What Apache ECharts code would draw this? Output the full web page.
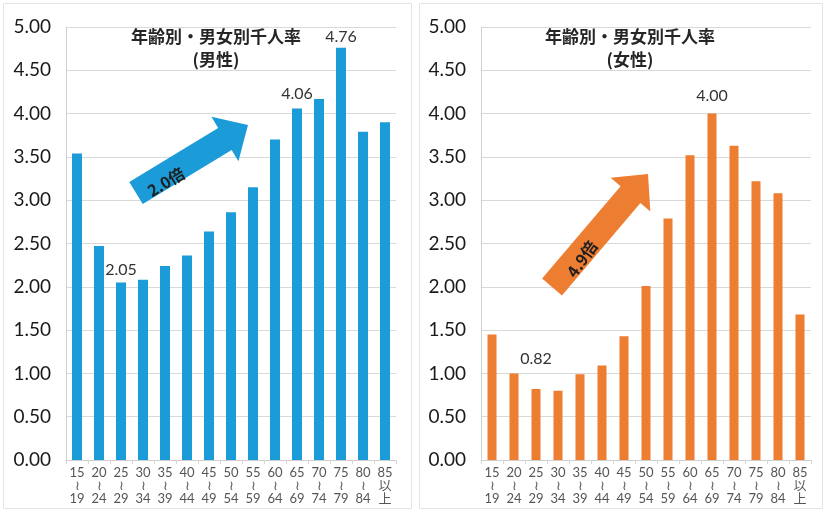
<!DOCTYPE html>
<html>
<head>
<meta charset="utf-8">
<script src="https://cdn.jsdelivr.net/npm/echarts@6/dist/echarts.min.js"></script>
<style>
  html, body { margin: 0; padding: 0; background: #ffffff; }
  #chart { width: 826px; height: 513px; }
</style>
</head>
<body>
<div id="chart"></div>
<script>
// Age bands (vertical labels: from / wave dash / to)
const ageBands = [
  '15\n≀\n19', '20\n≀\n24', '25\n≀\n29', '30\n≀\n34', '35\n≀\n39',
  '40\n≀\n44', '45\n≀\n49', '50\n≀\n54', '55\n≀\n59', '60\n≀\n64',
  '65\n≀\n69', '70\n≀\n74', '75\n≀\n79', '80\n≀\n84', '85\n以\n上'
];

// Rate per thousand, men
const maleRates = [3.54, 2.47, 2.05, 2.08, 2.24, 2.36, 2.64, 2.86, 3.15, 3.70, 4.06, 4.17, 4.76, 3.79, 3.90];
// Rate per thousand, women
const femaleRates = [1.45, 1.00, 0.82, 0.80, 0.99, 1.09, 1.43, 2.01, 2.79, 3.52, 4.00, 3.63, 3.22, 3.08, 1.68];

// Bars whose value is printed, with the gap between bar top and label
const maleLabelled = { 2: 5, 10: 7, 12: 3 };
const femaleLabelled = { 2: 22, 10: 10 };

const titleMain = '年齢別・男女別千人率';
const titleMale = '(男性)';
const titleFemale = '(女性)';
const ratioMale = '2.0倍';
const ratioFemale = '4.9倍';

const yTicks = { min: 0, max: 5, interval: 0.5 };

const BLUE = '#1b9bd8';
const ORANGE = '#ed7d31';
const GRID_LINE = '#d9d9d9';

function withLabels(values, labelled) {
  return values.map((v, i) => {
    if (labelled[i] === undefined) return v;
    return {
      value: v,
      label: {
        show: true, position: 'top', distance: labelled[i],
        formatter: p => p.value.toFixed(2),
        fontFamily: 'Lato', fontSize: 16, color: '#333333'
      }
    };
  });
}

// Thick block arrow from a tail centre to a tip
function arrowPoints(tail, tip, shaftW, headW, headL) {
  const dx = tip[0] - tail[0], dy = tip[1] - tail[1];
  const len = Math.hypot(dx, dy);
  const ux = dx / len, uy = dy / len;
  const nx = -uy, ny = ux;
  const bx = tip[0] - ux * headL, by = tip[1] - uy * headL;
  const s = shaftW / 2, h = headW / 2;
  return [
    [tail[0] + nx * s, tail[1] + ny * s],
    [bx + nx * s, by + ny * s],
    [bx + nx * h, by + ny * h],
    tip,
    [bx - nx * h, by - ny * h],
    [bx - nx * s, by - ny * s],
    [tail[0] - nx * s, tail[1] - ny * s]
  ];
}

function xAxisFor(gridIndex) {
  return {
    type: 'category', gridIndex, data: ageBands,
    axisLine: { lineStyle: { color: '#cfcfcf', width: 1 } },
    axisTick: { show: true, length: 4, lineStyle: { color: '#d6d6d6' } },
    axisLabel: {
      interval: 0, margin: 6, color: '#555555',
      fontFamily: 'Lato, "Noto Sans CJK JP"', fontSize: 13, lineHeight: 13
    }
  };
}

function yAxisFor(gridIndex) {
  return {
    type: 'value', gridIndex,
    min: yTicks.min, max: yTicks.max, interval: yTicks.interval,
    axisLine: { show: true, lineStyle: { color: '#cfcfcf' } },
    axisTick: { show: false },
    splitLine: { lineStyle: { color: GRID_LINE, width: 1 } },
    axisLabel: {
      margin: 15, color: '#1a1a1a', fontFamily: 'Lato', fontSize: 19,
      formatter: v => v.toFixed(2)
    }
  };
}

const titleStyle = {
  fontFamily: '"Noto Sans CJK JP"', fontSize: 17, fontWeight: 'bold',
  color: '#262626', lineHeight: 23, align: 'center'
};

const chart = echarts.init(document.getElementById('chart'), null, { renderer: 'canvas' });

chart.setOption({
  animation: false,
  backgroundColor: '#ffffff',
  title: [
    { text: titleMain + '\n' + titleMale, left: 216, top: 25, textAlign: 'center', padding: 0, textStyle: titleStyle },
    { text: titleMain + '\n' + titleFemale, left: 630, top: 25, textAlign: 'center', padding: 0, textStyle: titleStyle }
  ],
  grid: [
    { left: 66, top: 27, width: 330, height: 433 },
    { left: 481, top: 27, width: 330, height: 433 }
  ],
  xAxis: [xAxisFor(0), xAxisFor(1)],
  yAxis: [yAxisFor(0), yAxisFor(1)],
  series: [
    {
      type: 'bar', xAxisIndex: 0, yAxisIndex: 0, barWidth: 10,
      itemStyle: { color: BLUE },
      data: withLabels(maleRates, maleLabelled)
    },
    {
      type: 'bar', xAxisIndex: 1, yAxisIndex: 1, barWidth: 9,
      itemStyle: { color: ORANGE },
      data: withLabels(femaleRates, femaleLabelled)
    }
  ],
  graphic: [
    // panel frames
    { type: 'rect', silent: true, z: -1, shape: { x: 3.5, y: 3.5, width: 408, height: 505 },
      style: { fill: null, stroke: '#e4e4e4', lineWidth: 1 } },
    { type: 'rect', silent: true, z: -1, shape: { x: 419.5, y: 3.5, width: 403, height: 505 },
      style: { fill: null, stroke: '#e4e4e4', lineWidth: 1 } },
    // trend arrows
    { type: 'polygon', z: 10, shape: { points: arrowPoints([136, 193], [248, 125], 26, 52, 27) },
      style: { fill: BLUE } },
    { type: 'text', z: 11, x: 166, y: 182, rotation: 31 * Math.PI / 180,
      style: { text: ratioMale, fill: '#1f1f1f', font: 'bold 16px "Noto Sans CJK JP"', align: 'center', verticalAlign: 'middle' } },
    { type: 'polygon', z: 10, shape: { points: arrowPoints([552, 287], [648, 174], 26, 52, 27) },
      style: { fill: ORANGE } },
    { type: 'text', z: 11, x: 582, y: 259, rotation: 55 * Math.PI / 180,
      style: { text: ratioFemale, fill: '#1f1f1f', font: 'bold 16px "Noto Sans CJK JP"', align: 'center', verticalAlign: 'middle' } }
  ]
});
</script>
</body>
</html>
